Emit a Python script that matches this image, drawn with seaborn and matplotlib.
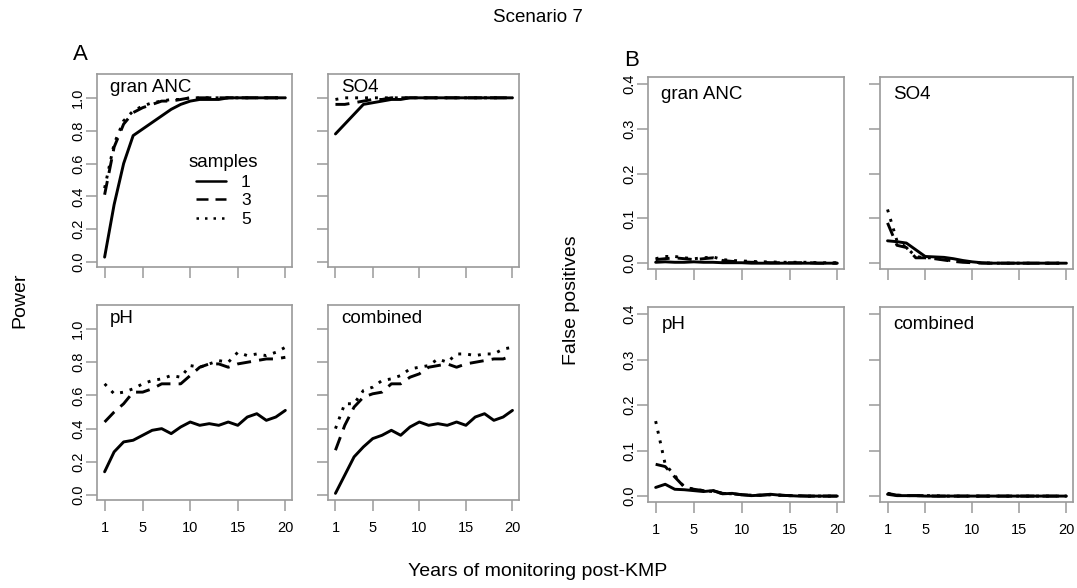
import matplotlib
matplotlib.use("Agg")
import matplotlib.pyplot as plt
import seaborn as sns
import pandas as pd

sns.set_style("white")
plt.rcParams['font.family'] = ['Liberation Sans', 'DejaVu Sans']
plt.rcParams['text.color'] = 'black'
plt.rcParams['axes.labelcolor'] = 'black'
plt.rcParams['xtick.color'] = 'black'
plt.rcParams['ytick.color'] = 'black'

years = list(range(1, 21))
samples = [1, 3, 5]
panels = ["gran ANC", "SO4", "pH", "combined"]

# ---- Power (panel A) ----
power_granANC_1 = [0.03, 0.35, 0.60, 0.77, 0.81, 0.85, 0.89, 0.93, 0.96, 0.98, 0.99, 0.99, 0.99, 1.0, 1.0, 1.0, 1.0, 1.0, 1.0, 1.0]
power_granANC_3 = [0.41, 0.70, 0.84, 0.91, 0.94, 0.96, 0.98, 0.98, 0.99, 1.0, 1.0, 1.0, 1.0, 1.0, 1.0, 1.0, 1.0, 1.0, 1.0, 1.0]
power_granANC_5 = [0.45, 0.72, 0.86, 0.92, 0.95, 0.97, 0.98, 0.99, 0.99, 1.0, 1.0, 1.0, 1.0, 1.0, 1.0, 1.0, 1.0, 1.0, 1.0, 1.0]

power_SO4_1 = [0.78, 0.84, 0.90, 0.96, 0.97, 0.98, 0.99, 0.99, 1.0, 1.0, 1.0, 1.0, 1.0, 1.0, 1.0, 1.0, 1.0, 1.0, 1.0, 1.0]
power_SO4_3 = [0.96, 0.96, 0.97, 0.98, 0.99, 0.99, 1.0, 1.0, 1.0, 1.0, 1.0, 1.0, 1.0, 1.0, 1.0, 1.0, 1.0, 1.0, 1.0, 1.0]
power_SO4_5 = [0.99, 1.0, 1.0, 1.0, 1.0, 1.0, 1.0, 1.0, 1.0, 1.0, 1.0, 1.0, 1.0, 1.0, 1.0, 1.0, 1.0, 1.0, 1.0, 1.0]

power_pH_1 = [0.14, 0.26, 0.32, 0.33, 0.36, 0.39, 0.40, 0.37, 0.41, 0.44, 0.42, 0.43, 0.42, 0.44, 0.42, 0.47, 0.49, 0.45, 0.47, 0.51]
power_pH_3 = [0.44, 0.50, 0.55, 0.62, 0.62, 0.64, 0.67, 0.67, 0.67, 0.72, 0.77, 0.79, 0.79, 0.77, 0.79, 0.80, 0.81, 0.82, 0.82, 0.83]
power_pH_5 = [0.67, 0.61, 0.62, 0.64, 0.67, 0.69, 0.70, 0.72, 0.71, 0.78, 0.77, 0.79, 0.81, 0.80, 0.86, 0.84, 0.85, 0.84, 0.86, 0.89]

power_comb_1 = [0.01, 0.12, 0.23, 0.29, 0.34, 0.36, 0.39, 0.36, 0.41, 0.44, 0.42, 0.43, 0.42, 0.44, 0.42, 0.47, 0.49, 0.45, 0.47, 0.51]
power_comb_3 = [0.27, 0.42, 0.53, 0.59, 0.61, 0.62, 0.67, 0.67, 0.71, 0.73, 0.77, 0.78, 0.79, 0.77, 0.79, 0.80, 0.81, 0.82, 0.82, 0.84]
power_comb_5 = [0.40, 0.55, 0.55, 0.63, 0.65, 0.69, 0.70, 0.72, 0.76, 0.77, 0.78, 0.82, 0.80, 0.85, 0.85, 0.84, 0.85, 0.85, 0.88, 0.89]

# ---- False positives (panel B) ----
fp_granANC_1 = [0.002, 0.003, 0.002, 0.002, 0.003, 0.002, 0.002, 0.001, 0.001, 0.001, 0.0, 0.0, 0.0, 0.0, 0.0, 0.0, 0.0, 0.0, 0.0, 0.0]
fp_granANC_3 = [0.008, 0.010, 0.012, 0.010, 0.008, 0.010, 0.012, 0.006, 0.004, 0.003, 0.002, 0.002, 0.001, 0.001, 0.001, 0.001, 0.001, 0.0, 0.0, 0.0]
fp_granANC_5 = [0.010, 0.015, 0.015, 0.012, 0.010, 0.012, 0.014, 0.008, 0.006, 0.005, 0.004, 0.003, 0.003, 0.002, 0.002, 0.002, 0.002, 0.001, 0.001, 0.001]

fp_SO4_1 = [0.050, 0.048, 0.045, 0.030, 0.015, 0.014, 0.013, 0.010, 0.006, 0.003, 0.001, 0.0, 0.0, 0.0, 0.0, 0.0, 0.0, 0.0, 0.0, 0.0]
fp_SO4_3 = [0.090, 0.040, 0.035, 0.012, 0.012, 0.010, 0.007, 0.004, 0.002, 0.001, 0.0, 0.0, 0.0, 0.0, 0.0, 0.0, 0.0, 0.0, 0.0, 0.0]
fp_SO4_5 = [0.120, 0.050, 0.035, 0.015, 0.012, 0.012, 0.008, 0.005, 0.003, 0.002, 0.001, 0.0, 0.0, 0.0, 0.0, 0.0, 0.0, 0.0, 0.0, 0.0]

fp_pH_1 = [0.019, 0.026, 0.015, 0.014, 0.012, 0.010, 0.012, 0.005, 0.006, 0.003, 0.001, 0.002, 0.004, 0.002, 0.001, 0.0, 0.0, 0.0, 0.0, 0.0]
fp_pH_3 = [0.070, 0.065, 0.042, 0.020, 0.015, 0.012, 0.012, 0.006, 0.005, 0.003, 0.002, 0.002, 0.003, 0.002, 0.001, 0.001, 0.0, 0.0, 0.0, 0.0]
fp_pH_5 = [0.165, 0.070, 0.045, 0.020, 0.015, 0.012, 0.010, 0.006, 0.005, 0.003, 0.002, 0.002, 0.003, 0.002, 0.001, 0.001, 0.0, 0.0, 0.0, 0.0]

fp_comb_1 = [0.004, 0.001, 0.001, 0.001, 0.0, 0.0, 0.0, 0.0, 0.0, 0.0, 0.0, 0.0, 0.0, 0.0, 0.0, 0.0, 0.0, 0.0, 0.0, 0.0]
fp_comb_3 = [0.006, 0.002, 0.001, 0.001, 0.001, 0.0, 0.0, 0.0, 0.0, 0.0, 0.0, 0.0, 0.0, 0.0, 0.0, 0.0, 0.0, 0.0, 0.0, 0.0]
fp_comb_5 = [0.006, 0.002, 0.001, 0.001, 0.001, 0.001, 0.0, 0.0, 0.0, 0.0, 0.0, 0.0, 0.0, 0.0, 0.0, 0.0, 0.0, 0.0, 0.0, 0.0]

power = {
    "gran ANC": [power_granANC_1, power_granANC_3, power_granANC_5],
    "SO4": [power_SO4_1, power_SO4_3, power_SO4_5],
    "pH": [power_pH_1, power_pH_3, power_pH_5],
    "combined": [power_comb_1, power_comb_3, power_comb_5],
}
falsepos = {
    "gran ANC": [fp_granANC_1, fp_granANC_3, fp_granANC_5],
    "SO4": [fp_SO4_1, fp_SO4_3, fp_SO4_5],
    "pH": [fp_pH_1, fp_pH_3, fp_pH_5],
    "combined": [fp_comb_1, fp_comb_3, fp_comb_5],
}


def long_df(series_list):
    rows = []
    for s, vals in zip(samples, series_list):
        for yr, v in zip(years, vals):
            rows.append({"year": yr, "value": v, "samples": s})
    return pd.DataFrame(rows)


W, H = 1077, 588
fig = plt.figure(figsize=(W / 100, H / 100), dpi=100)


def add_ax(x0, y0, x1, y1):
    return fig.add_axes([x0 / W, 1 - y1 / H, (x1 - x0) / W, (y1 - y0) / H])


GRAY = "#9a9a9a"
dashes = {1: "", 3: (4.8, 2.8), 5: (1.0, 2.4)}
LW = 2.1

boxesA = {"gran ANC": (97, 74, 292, 267), "SO4": (328, 74, 519, 267),
          "pH": (97, 305, 292, 500), "combined": (328, 305, 519, 500)}
boxesB = {"gran ANC": (648, 77, 844, 269), "SO4": (880, 77, 1073, 269),
          "pH": (648, 307, 844, 502), "combined": (880, 307, 1073, 502)}


def style_ax(ax, ylim, yticks, ylabels_on, xlabels_on, ylabfmt):
    ax.set_xlim(0.2, 20.7)
    ax.set_ylim(*ylim)
    ax.set_xticks([1, 5, 10, 15, 20])
    ax.set_yticks(yticks)
    for sp in ax.spines.values():
        sp.set_visible(True)
        sp.set_color(GRAY)
        sp.set_linewidth(1.2)
    ax.tick_params(axis="both", which="both", direction="out", length=8, width=1.1,
                   color=GRAY, labelsize=10.5, labelcolor="black",
                   bottom=True, left=True, top=False, right=False)
    ax.tick_params(axis="x", pad=7)
    ax.tick_params(axis="y", pad=0.5)
    if xlabels_on:
        ax.set_xticklabels(["1", "5", "10", "15", "20"])
    else:
        ax.set_xticklabels([])
    if ylabels_on:
        ax.set_yticklabels([ylabfmt.format(t) for t in yticks], rotation=90, va="center")
    else:
        ax.set_yticklabels([])
    ax.set_xlabel("")
    ax.set_ylabel("")
    ax.set_facecolor("white")


for name in panels:
    # Panel A: power
    ax = add_ax(*boxesA[name])
    df = long_df(power[name])
    sns.lineplot(data=df, x="year", y="value", style="samples", dashes=dashes,
                 color="black", linewidth=LW, legend=(name == "gran ANC"), ax=ax)
    style_ax(ax, (-0.03, 1.145), [0.0, 0.2, 0.4, 0.6, 0.8, 1.0],
             name in ("gran ANC", "pH"), name in ("pH", "combined"), "{:.1f}")
    ax.text(0.068, 0.975, name, transform=ax.transAxes, ha="left", va="top", fontsize=13.5)
    if name == "gran ANC":
        leg = ax.legend(title="samples", frameon=False, fontsize=12.5, title_fontsize=13.5,
                        handlelength=1.75, handletextpad=0.85, labelspacing=0.2,
                        loc="upper left", bbox_to_anchor=(0.47, 0.485, 0.1, 0.1),
                        borderaxespad=0, borderpad=0)
        for line in leg.get_lines():
            line.set_linewidth(1.8)

    # Panel B: false positives
    ax = add_ax(*boxesB[name])
    df = long_df(falsepos[name])
    sns.lineplot(data=df, x="year", y="value", style="samples", dashes=dashes,
                 color="black", linewidth=LW, legend=False, ax=ax)
    style_ax(ax, (-0.013, 0.416), [0.0, 0.1, 0.2, 0.3, 0.4],
             name in ("gran ANC", "pH"), name in ("pH", "combined"), "{:.1f}")
    ax.text(0.068, 0.955, name, transform=ax.transAxes, ha="left", va="top", fontsize=13.5)

fig.text(538 / W, 1 - 18 / H, "Scenario 7", ha="center", va="center", fontsize=13.5)
fig.text(80 / W, 1 - 55 / H, "A", ha="center", va="center", fontsize=16)
fig.text(632 / W, 1 - 60 / H, "B", ha="center", va="center", fontsize=16)
fig.text(20 / W, 1 - 300 / H, "Power", ha="center", va="center", rotation=90, fontsize=14)
fig.text(572 / W, 1 - 300 / H, "False positives", ha="center", va="center", rotation=90, fontsize=14)
fig.text(538 / W, 1 - 572 / H, "Years of monitoring post-KMP", ha="center", va="center", fontsize=14)

fig.savefig("out.png", dpi=100, facecolor="white")
